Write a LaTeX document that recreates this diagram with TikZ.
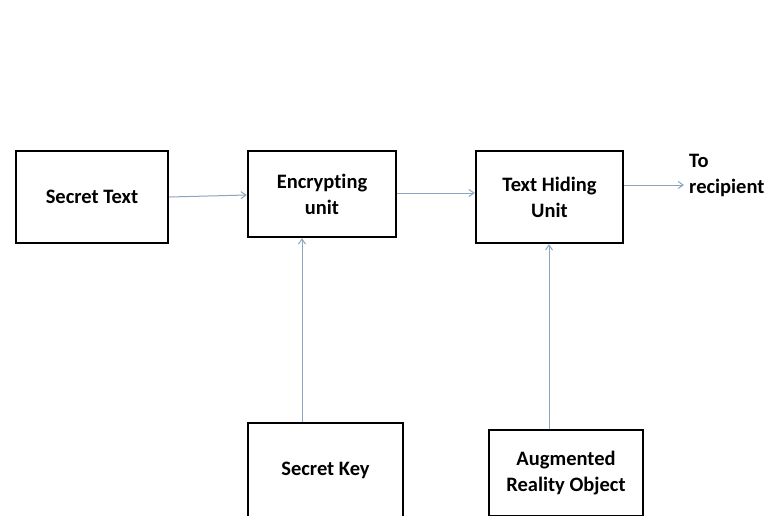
\documentclass[tikz,border=0pt]{standalone}
\usepackage{fontspec}
\setmainfont[Ligatures=NoCommon]{Carlito}
\usetikzlibrary{arrows.meta}
\definecolor{conn}{RGB}{140,165,190}
\tikzset{
  lbl/.style={font=\bfseries\fontsize{20.5}{26}\selectfont},
  blk/.style={lbl, draw=black, line width=2.4pt, fill=white, inner sep=0pt, align=center},
  conline/.style={draw=conn, line width=1pt, -{Straight Barb[length=5pt,width=7pt]}},
}
\begin{document}
\begin{tikzpicture}[x=1pt,y=-1pt]
\useasboundingbox (0,0) rectangle (774,515);
\node[blk, minimum width=152pt, minimum height=92pt] (st) at (92,197) {Secret Text};
\node[blk, minimum width=148pt, minimum height=86pt] (enc) at (322,194) {Encrypting\\unit};
\node[blk, minimum width=147pt, minimum height=92pt] (thu) at (549.5,197) {Text Hiding\\Unit};
\node[blk, minimum width=155pt, minimum height=94pt, anchor=north] (sk) at (325.5,422) {Secret Key};
\node[blk, minimum width=154pt, minimum height=86pt, anchor=north] (aro) at (566,429) {Augmented\\Reality Object};
\node[lbl, align=left, anchor=west, inner sep=0pt] (rec) at (689,175) {To\\recipient};
\draw[conline] (st.east |- 0,197) -- (enc.west |- 0,195);
\draw[conline] (enc.east |- 0,193) -- (thu.west |- 0,193);
\draw[conline, shorten >=5pt] (thu.east |- 0,185) -- (rec.west |- 0,185);
\draw[conline] (sk.north -| 302,0) -- (enc.south -| 302,0);
\draw[conline] (aro.north -| 549,0) -- (thu.south -| 549,0);
\end{tikzpicture}
\end{document}
